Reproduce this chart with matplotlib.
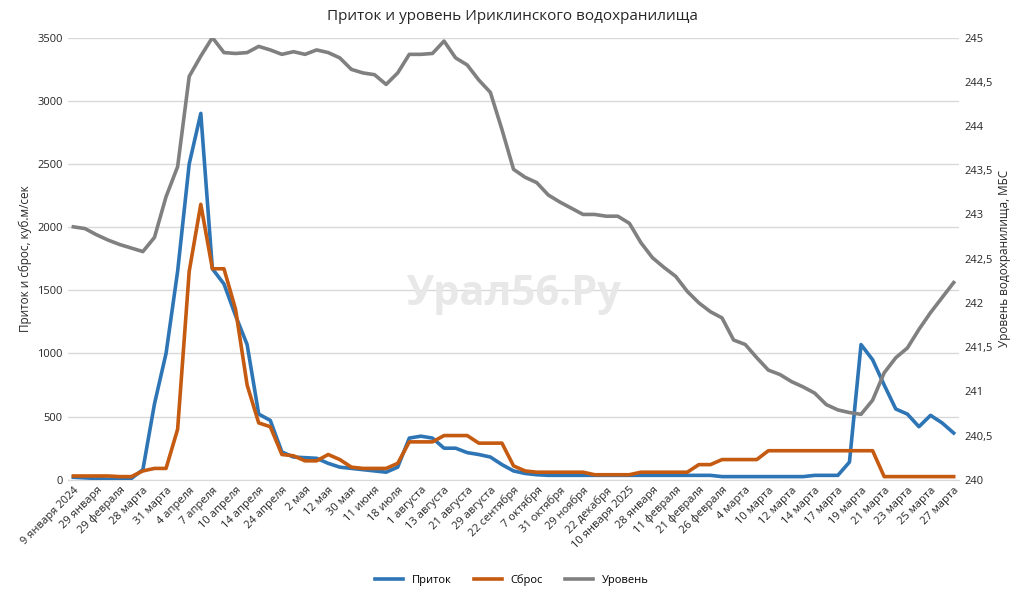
import matplotlib
matplotlib.use("Agg")
import matplotlib.pyplot as plt
from matplotlib.ticker import FuncFormatter, MultipleLocator

tick_labels = ["9 января 2024", "29 января", "29 февраля", "28 марта", "31 марта", "4 апреля",
               "7 апреля", "10 апреля", "14 апреля", "24 апреля", "2 мая", "12 мая", "30 мая",
               "11 июня", "18 июля", "1 августа", "13 августа", "21 августа", "29 августа",
               "22 сентября", "7 октября", "31 октября", "29 ноября", "22 декабря",
               "10 января 2025", "28 января", "11 февраля", "21 февраля", "26 февраля",
               "4 марта", "10 марта", "12 марта", "14 марта", "17 марта", "19 марта",
               "21 марта", "23 марта", "25 марта", "27 марта"]

inflow = [20, 15, 10, 5, 5, 10, 80, 600, 1000, 1650, 2500, 2900, 1670, 1550, 1300, 1070,
          520, 470, 220, 180, 175, 170, 130, 100, 90, 80, 70, 60, 100, 330, 345, 330, 250,
          250, 215, 200, 180, 120, 70, 50, 40,
          35, 35, 35, 35, 35, 35, 35, 35, 35, 35, 35, 35, 35, 35, 35,
          25, 25, 25, 25, 25, 25, 25, 25,
          35, 35, 35, 140, 1070, 950, 750, 560, 520, 420, 510, 450, 370]

discharge = [30, 30, 30, 30, 25, 25, 70, 90, 90, 400, 1650, 2180, 1670, 1670, 1350, 750,
             450, 420, 200, 190, 150, 150, 200, 160, 100, 90, 90, 90, 130, 300, 300, 300,
             350, 350, 350, 290, 290, 290, 110, 70,
             60, 60, 60, 60, 60, 40, 40, 40, 40,
             60, 60, 60, 60, 60, 120, 120, 160, 160, 160, 160,
             230, 230, 230, 230, 230, 230, 230, 230, 230, 230,
             25, 25, 25, 25, 25, 25, 25]

level = [242.86, 242.84, 242.77, 242.71, 242.66, 242.62, 242.58, 242.74, 243.2, 243.54,
         244.56, 244.79, 245.0, 244.83, 244.82, 244.83, 244.9, 244.86, 244.81, 244.84,
         244.81, 244.86, 244.83, 244.77, 244.64, 244.6, 244.58, 244.47, 244.6, 244.81,
         244.81, 244.82, 244.96, 244.77, 244.69, 244.52, 244.38, 243.96, 243.51, 243.42,
         243.36, 243.22, 243.14, 243.07, 243.0, 243.0, 242.98, 242.98, 242.9, 242.68,
         242.51, 242.4, 242.3, 242.13, 242.0, 241.9, 241.83, 241.58, 241.53, 241.38,
         241.24, 241.19, 241.11, 241.05, 240.98, 240.85, 240.79, 240.76, 240.74, 240.9,
         241.21, 241.38, 241.49, 241.7, 241.89, 242.06, 242.23]

plt.rcParams["font.family"] = "Open Sans"
fig = plt.figure(figsize=(10.24, 5.96), dpi=100)
ax = fig.add_axes([0.066, 0.195, 0.871, 0.742])
ax2 = ax.twinx()

x = list(range(len(inflow)))
l1, = ax.plot(x, inflow, color="#2E75B6", lw=2.6, label="Приток", zorder=3)
l2, = ax.plot(x, discharge, color="#C55A11", lw=2.6, label="Сброс", zorder=3)
l3, = ax2.plot(x, level, color="#808080", lw=2.6, label="Уровень")

ax.set_xlim(-0.5, len(x) - 0.5)
ax.set_ylim(0, 3500)
ax.yaxis.set_major_locator(MultipleLocator(500))
ax2.set_ylim(240, 245)
ax2.yaxis.set_major_locator(MultipleLocator(0.5))
ax2.yaxis.set_major_formatter(FuncFormatter(lambda v, p: f"{v:g}".replace(".", ",")))
ax.grid(axis="y", color="#d9d9d9", lw=1)
ax.set_axisbelow(True)
for a in (ax, ax2):
    for s in a.spines.values():
        s.set_visible(False)
    a.tick_params(length=0, labelsize=8, colors="#262626")
ax.spines["bottom"].set_visible(True)
ax.spines["bottom"].set_color("#d9d9d9")

ax.set_xticks(x[::2])
ax.set_xticklabels(tick_labels, rotation=45, ha="right", rotation_mode="anchor", fontsize=8)

ax.set_ylabel("Приток и сброс, куб.м/сек", fontsize=8.5, color="#262626")
ax2.set_ylabel("Уровень водохранилища, МБС", fontsize=8.5, color="#262626")
fig.suptitle("Приток и уровень Ириклинского водохранилища", y=0.985, fontsize=11, color="#262626")

ax.text(0.5, 0.42, "Урал56.Ру", transform=ax.transAxes, fontsize=30, color="#e8e8e8",
        ha="center", va="center", fontweight="bold", zorder=1)

fig.legend(handles=[l1, l2, l3], loc="lower center", ncol=3, frameon=False,
           fontsize=8, bbox_to_anchor=(0.5, 0.0), handlelength=2.5, columnspacing=2)
fig.savefig("out.png", dpi=100)
